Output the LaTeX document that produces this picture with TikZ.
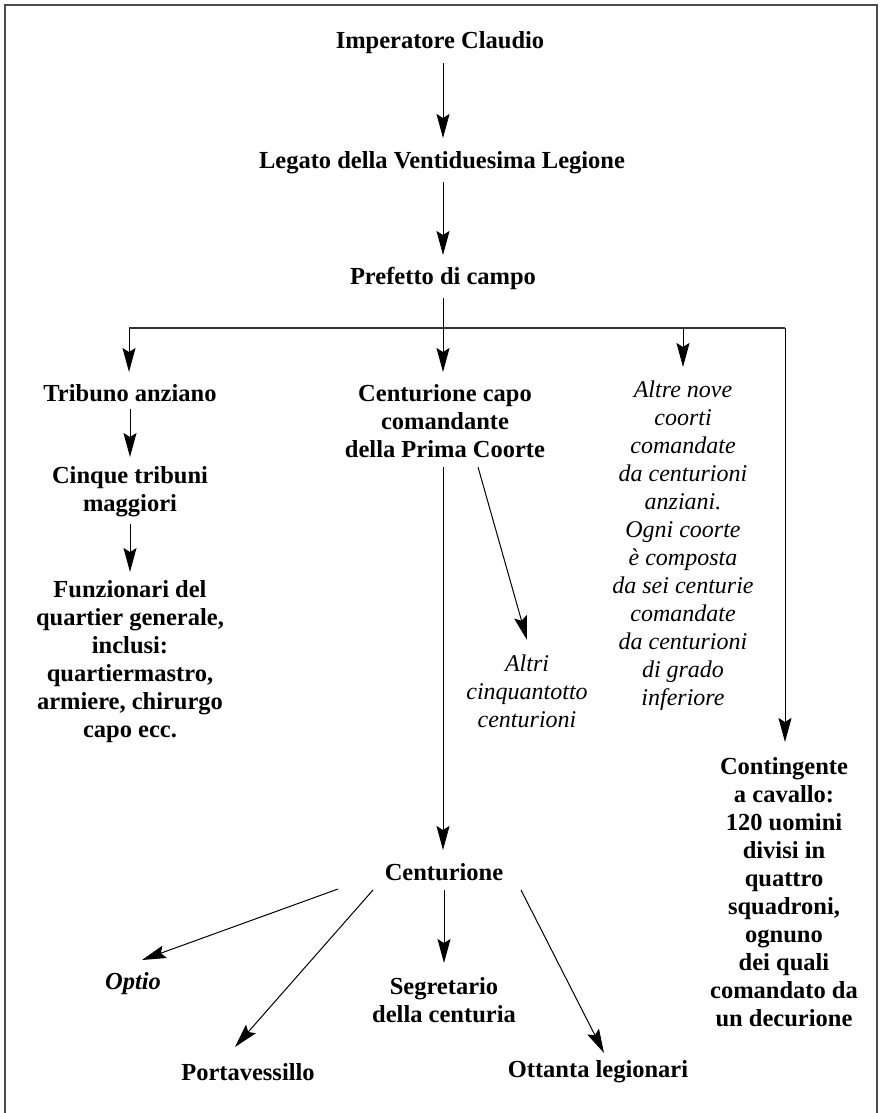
\documentclass[tikz,border=0pt]{standalone}
\usepackage{fontspec}
\setmainfont{Liberation Serif}
\usetikzlibrary{arrows.meta}
\tikzset{
  lbl/.style={inner sep=0pt, align=center, font=\fontsize{24.5}{28}\selectfont\bfseries},
  ilbl/.style={inner sep=0pt, align=center, font=\fontsize{24}{28}\selectfont\itshape},
  conn/.style={line width=1pt},
  arr/.style={line width=1pt, -{Stealth[length=24pt,width=13pt,inset=4pt]}},
  bar/.style={line width=1.4pt, black!80},
  frame/.style={line width=1.5pt, black!70}
}
\begin{document}
\begin{tikzpicture}[x=1pt,y=-1pt]
\useasboundingbox (0,0) rectangle (881,1113);
\draw[frame] (5,1113) -- (5,5) -- (877,5) -- (877,1113);

\node[lbl] (imp) at (440,43) {Imperatore Claudio};
\node[lbl] (leg) at (442,163) {Legato della Ventiduesima Legione};
\node[lbl] (pref) at (443,278) {Prefetto di campo};
\node[lbl] (trib) at (130,393) {Tribuno anziano};
\node[lbl] (cinq) at (130,492) {Cinque tribuni\\maggiori};
\node[lbl] (funz) at (130,662) {Funzionari del\\quartier generale,\\inclusi:\\quartiermastro,\\armiere, chirurgo\\capo ecc.};
\node[lbl] (ccap) at (445,421) {Centurione capo\\comandante\\della Prima Coorte};
\node[ilbl] (altri) at (527,691) {Altri\\cinquantotto\\centurioni};
\node[ilbl] (nove) at (683,546) {Altre nove\\coorti\\comandate\\da centurioni\\anziani.\\Ogni coorte\\è composta\\da sei centurie\\comandate\\da centurioni\\di grado\\inferiore};
\node[lbl] (cont) at (784,892) {Contingente\\a cavallo:\\120 uomini\\divisi in\\quattro\\squadroni,\\ognuno\\dei quali\\comandato da\\un decurione};
\node[lbl] (cent) at (444,872) {Centurione};
\node[lbl] (optio) at (133,984) {\itshape Optio};
\node[lbl] (porta) at (248,1072) {Portavessillo};
\node[lbl] (segr) at (444,1000) {Segretario\\della centuria};
\node[lbl] (ott) at (598,1072) {Ottanta legionari};

\coordinate (barM) at (443,328);
\coordinate (barL) at (129,328);
\coordinate (barN) at (683,328);
\coordinate (barR) at (785,328);

\draw[arr] ([xshift=3pt,yshift=-20pt]imp.center) -- ([xshift=1pt,yshift=25pt]leg.center);
\draw[arr] ([xshift=1pt,yshift=-19pt]leg.center) -- ([yshift=23pt]pref.center);
\draw[conn] ([yshift=-20pt]pref.center) -- (barM);
\draw[bar] (barL) -- (barR);
\draw[arr] (barL) -- ([xshift=-1pt,yshift=21pt]trib.center);
\draw[arr] (barM) -- ([xshift=-2pt,yshift=49pt]ccap.center);
\draw[arr] (barN) -- ([yshift=179pt]nove.center);
\draw[arr] (barR) -- ([xshift=1pt,yshift=150pt]cont.center);

\draw[arr] ([yshift=-16pt]trib.center) -- ([yshift=35pt]cinq.center);
\draw[arr] ([yshift=-32pt]cinq.center) -- ([yshift=90pt]funz.center);

\draw[arr] ([xshift=-2pt,yshift=-46pt]ccap.center) -- ([xshift=-1pt,yshift=22pt]cent.center);
\draw[arr] ([xshift=33pt,yshift=-46pt]ccap.center) -- ([yshift=51pt]altri.center);

\draw[arr] ([xshift=-106pt,yshift=-17pt]cent.center) -- ([xshift=9pt,yshift=24pt]optio.center);
\draw[arr] ([xshift=-71pt,yshift=-18pt]cent.center) -- ([xshift=-13pt,yshift=25pt]porta.center);
\draw[arr] ([yshift=-18pt]cent.center) -- ([yshift=37pt]segr.center);
\draw[arr] ([xshift=77pt,yshift=-18pt]cent.center) -- ([xshift=6pt,yshift=19pt]ott.center);
\end{tikzpicture}
\end{document}
